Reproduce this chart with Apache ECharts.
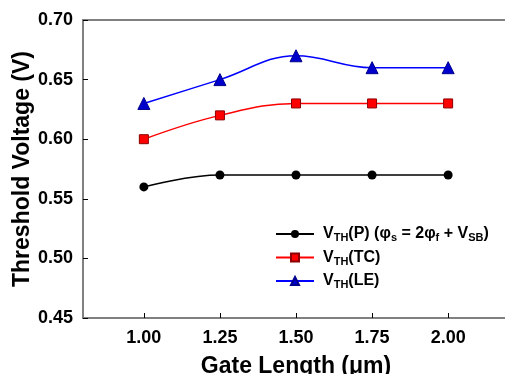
<!DOCTYPE html>
<html>
<head>
<meta charset="utf-8">
<script src="https://cdn.jsdelivr.net/npm/echarts@6/dist/echarts.min.js"></script>
<style>
  html, body { margin: 0; padding: 0; background: #fff; }
  #chart { width: 505px; height: 374px; }
</style>
</head>
<body>
<div id="chart"></div>
<script>
const gateLength = [1.00, 1.25, 1.50, 1.75, 2.00];
const xTicks = [1.00, 1.25, 1.50, 1.75, 2.00];
const vthP = [0.56, 0.57, 0.57, 0.57, 0.57];
const vthTC = [0.60, 0.62, 0.63, 0.63, 0.63];
const vthLE = [0.63, 0.65, 0.67, 0.66, 0.66];

const font = "Liberation Sans, Arial, sans-serif";
const pairs = (ys) => gateLength.map((x, i) => [x, ys[i]]);

const chart = echarts.init(document.getElementById("chart"));

chart.setOption({
  animation: false,
  backgroundColor: "#fff",
  grid: {
    left: 83, top: 20, right: -4, bottom: 56,
    outerBoundsMode: "none",
    containLabel: false,
    show: true, borderColor: "#808080", borderWidth: 2
  },
  xAxis: {
    type: "value",
    min: 0.8, max: 2.2,
    name: "Gate Length (μm)",
    nameLocation: "middle",
    nameGap: 37,
    nameMoveOverlap: false,
    nameTextStyle: { fontFamily: font, fontWeight: "bold", fontSize: 23, color: "#000" },
    axisLine: { lineStyle: { color: "#808080", width: 2 } },
    axisTick: { inside: true, length: 5, customValues: xTicks, lineStyle: { color: "#000" } },
    splitLine: { show: false },
    axisLabel: {
      fontFamily: font, fontWeight: "bold", fontSize: 18, color: "#000", margin: 11,
      customValues: xTicks,
      formatter: (v) => v.toFixed(2)
    }
  },
  yAxis: {
    type: "value",
    min: 0.45, max: 0.70, interval: 0.05,
    name: "Threshold Voltage (V)",
    nameLocation: "middle",
    nameGap: 49,
    nameMoveOverlap: false,
    nameTextStyle: { fontFamily: font, fontWeight: "bold", fontSize: 23, color: "#000" },
    axisLine: { show: true, lineStyle: { color: "#808080", width: 2 } },
    axisTick: { show: true, inside: true, length: 5, lineStyle: { color: "#000" } },
    splitLine: { show: false },
    axisLabel: {
      fontFamily: font, fontWeight: "bold", fontSize: 18, color: "#000", margin: 10,
      formatter: (v) => v.toFixed(2)
    }
  },
  legend: {
    orient: "vertical",
    left: 275, top: 221,
    padding: [5, 0, 5, 0],
    itemWidth: 38, itemHeight: 10, itemGap: 6,
    textStyle: {
      fontFamily: font, fontWeight: "bold", fontSize: 16, color: "#000",
      padding: [0, 0, 0, 4],
      rich: {
        m: { fontFamily: font, fontWeight: "bold", fontSize: 16, color: "#000" },
        s: { fontFamily: font, fontWeight: "bold", fontSize: 11, color: "#000", padding: [8, 0, 0, 0] }
      }
    },
    formatter: (name) => {
      if (name === "P") return "{m|V}{s|TH}{m|(P) (φ}{s|s}{m| = 2φ}{s|f}{m| + V}{s|SB}{m|)}";
      if (name === "TC") return "{m|V}{s|TH}{m|(TC)}";
      return "{m|V}{s|TH}{m|(LE)}";
    },
    data: ["P", "TC", "LE"]
  },
  series: [
    {
      name: "P", type: "line", smooth: 0.4, data: pairs(vthP),
      symbol: "circle", symbolSize: 9,
      lineStyle: { color: "#000", width: 1.5 },
      itemStyle: { color: "#000" }
    },
    {
      name: "TC", type: "line", smooth: 0.4, data: pairs(vthTC),
      symbol: "rect", symbolSize: 9,
      lineStyle: { color: "#ff0000", width: 1.5 },
      itemStyle: { color: "#ff0000", borderColor: "#8b0000", borderWidth: 1 }
    },
    {
      name: "LE", type: "line", smooth: 0.4, data: pairs(vthLE),
      symbol: "triangle", symbolSize: 12,
      lineStyle: { color: "#0000ff", width: 1.5 },
      itemStyle: { color: "#0000cc", borderColor: "#00008b", borderWidth: 1 }
    }
  ]
});
</script>
</body>
</html>
